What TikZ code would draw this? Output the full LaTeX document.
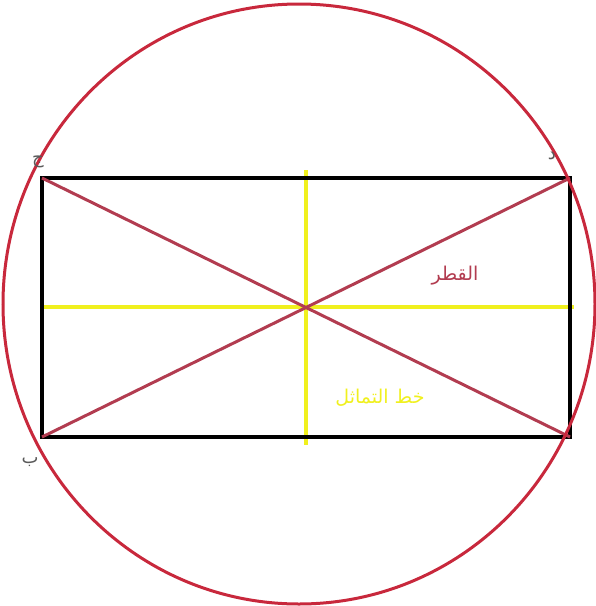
\documentclass[tikz,border=0pt]{standalone}
\usepackage{fontspec}
\newfontfamily\arabicfont[Script=Arabic]{DejaVu Sans}
\TeXXeTstate=1
\definecolor{circred}{RGB}{200,40,60}
\definecolor{diagred}{RGB}{178,60,80}
\definecolor{symyellow}{RGB}{240,240,30}
\definecolor{labgray}{RGB}{90,90,90}
\tikzset{
  lbl/.style={font=\arabicfont\fontsize{18}{20}\selectfont, inner sep=0pt},
}
\begin{document}
\begin{tikzpicture}[x=1pt,y=-1pt]
\useasboundingbox (0,0) rectangle (596,606);
\coordinate (O) at (306,307);
\coordinate (C) at (299,304);
\coordinate (TL) at (42,178);
\coordinate (TR) at (570,178);
\coordinate (BL) at (42,437);
\coordinate (BR) at (570,437);
\coordinate (VT) at (306,170);
\coordinate (VB) at (306,445);
\coordinate (HL) at (42,307);
\coordinate (HR) at (574,307);
% symmetry lines
\draw[symyellow, line width=3.5pt] (VT) -- (VB);
\draw[symyellow, line width=3.5pt] (HL) -- (HR);
% rectangle
\draw[black, line width=4pt] (TL) rectangle (BR);
% diagonals
\draw[diagred, line width=3pt] (TL) -- (BR);
\draw[diagred, line width=3pt] (BL) -- (TR);
% circle
\draw[circred, line width=3pt] (C) ellipse (296 and 300);
% labels
\node[lbl, text=labgray] (lj) at (38,162) {\beginR ج\endR};
\node[lbl, text=labgray] (ld) at (552,156) {\beginR د\endR};
\node[lbl, text=labgray] (lb) at (30,462) {\beginR ب\endR};
\node[lbl, text=diagred, font=\arabicfont\fontsize{19}{21}\selectfont] (ldiam) at (455,276) {\beginR القطر\endR};
\node[lbl, text=symyellow, font=\arabicfont\fontsize{19}{21}\selectfont] (lsym) at (380,398) {\beginR خط التماثل\endR};
\end{tikzpicture}
\end{document}
